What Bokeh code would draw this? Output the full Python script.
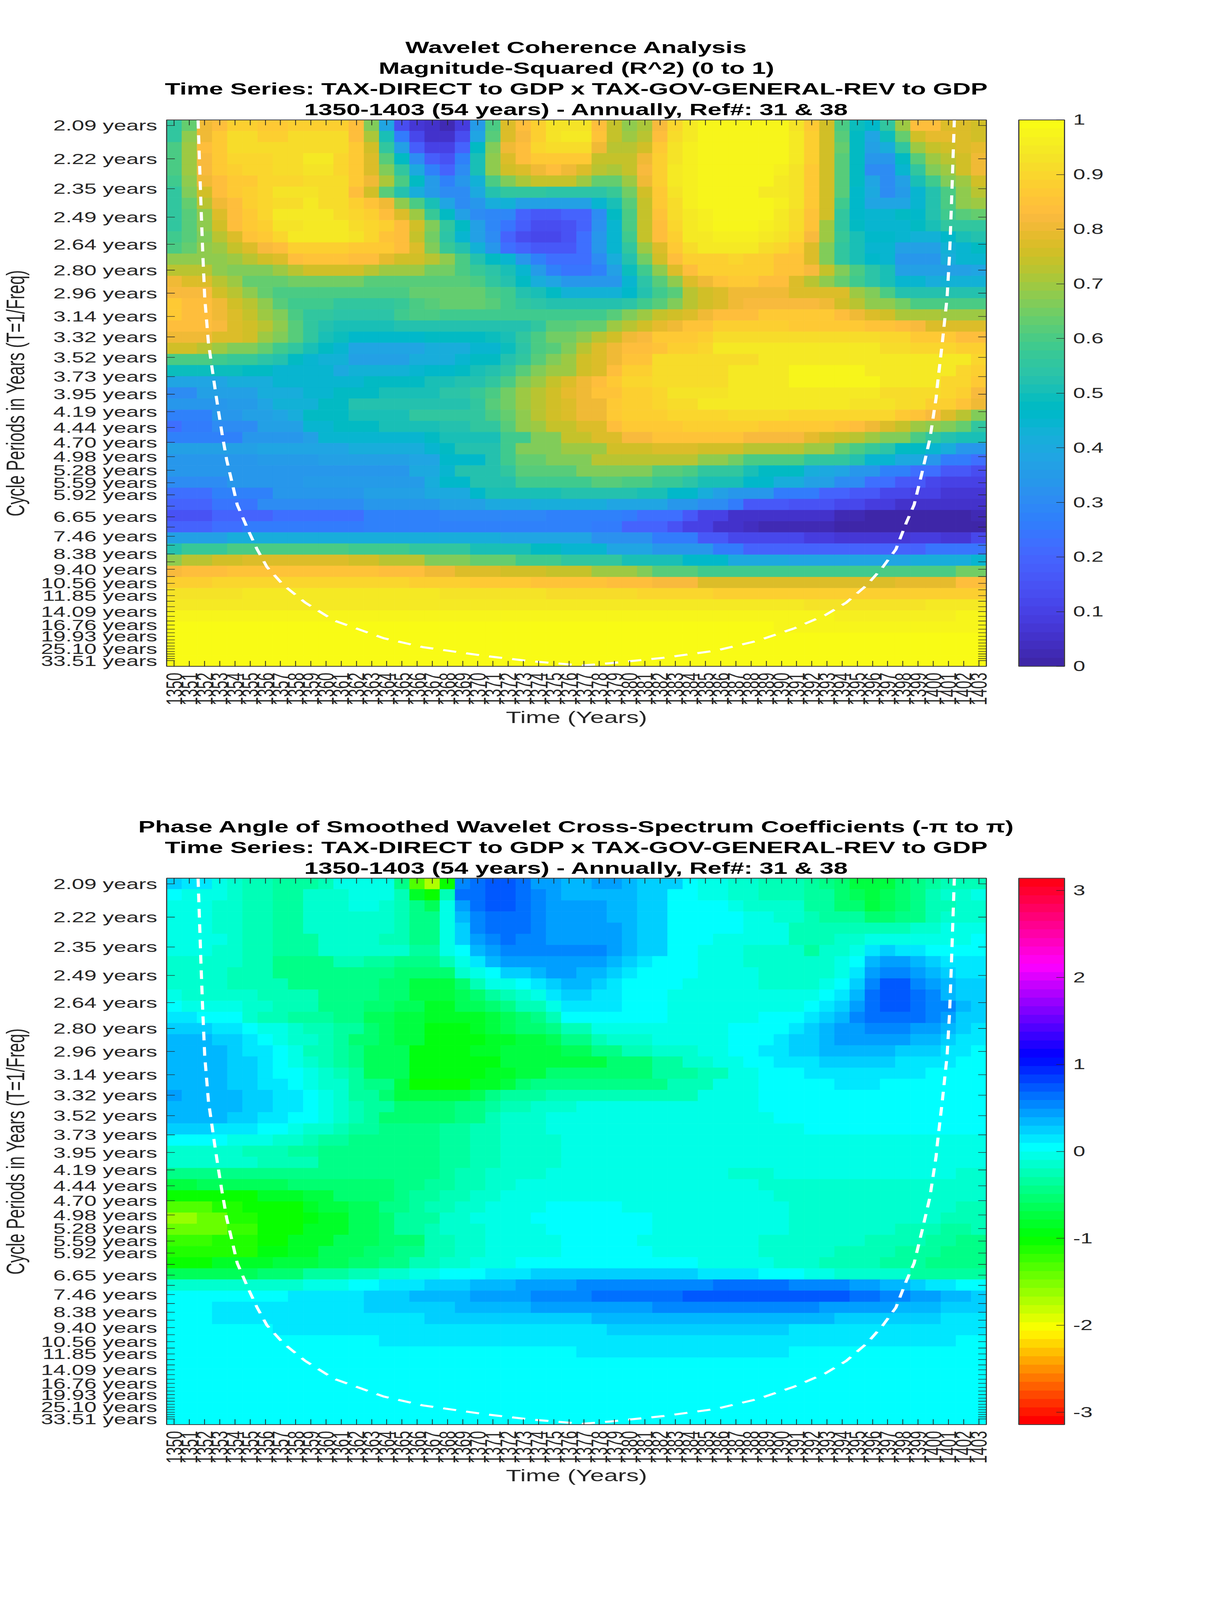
import math, colorsys
from bokeh.plotting import figure
from bokeh.layouts import column
from bokeh.document import Document
from bokeh.embed import file_html
from bokeh.resources import INLINE
from bokeh.models import (ColumnDataSource, LinearColorMapper, ColorBar, FixedTicker, LinearAxis, Range1d,
                          Title, CustomJS, CustomJSTickFormatter, NumeralTickFormatter)
from bokeh.transform import transform

YEARS = list(range(1350, 1404))
PERIODS = ["2.09","2.22","2.35","2.49","2.64","2.80","2.96","3.14","3.32","3.52","3.73","3.95","4.19","4.44","4.70","4.98",
           "5.28","5.59","5.92","6.27","6.65","7.05","7.46","7.90","8.38","8.88","9.40","9.96","10.56","11.19","11.85",
           "12.55","13.30","14.09","14.93","15.82","16.76","17.76","18.81","19.93","21.12","22.37","23.70","25.10","26.59",
           "28.18","29.85","31.62","33.51"]
HIDDEN = ["6.27","7.05","7.90","8.88","9.96","11.19","12.55","13.30","14.93","15.82","17.76","18.81","21.12","22.37","23.70",
          "26.59","28.18","29.85","31.62"]

TITLE_TOP = ["Wavelet Coherence Analysis", "Magnitude-Squared (R^2) (0 to 1)",
             "Time Series: TAX-DIRECT to GDP x TAX-GOV-GENERAL-REV to GDP",
             "1350-1403 (54 years) - Annually, Ref#: 31 & 38"]
TITLE_BOT = ["Phase Angle of Smoothed Wavelet Cross-Spectrum Coefficients (-\u03c0 to \u03c0)",
             "Time Series: TAX-DIRECT to GDP x TAX-GOV-GENERAL-REV to GDP",
             "1350-1403 (54 years) - Annually, Ref#: 31 & 38"]

# Each row: start column, value, start column, value ... (value holds until the next start column)
# Coherence in percent (R^2 x 100), row 0 = 2.09 years
RSQ_ROWS = [
[0,55,1,64,2,80,3,84,4,88,6,87,8,88,11,89,12,83,13,66,14,38,15,14,16,7,17,5,18,2,19,8,20,35,21,60,22,78,23,83,24,89,25,93,28,84,29,74,30,68,31,71,32,82,33,90,34,94,35,98,41,93,42,87,43,76,44,60,45,49,46,46,47,55,48,70,49,83,51,77,52,78,53,76],
[0,56,1,68,2,80,3,86,4,91,6,89,8,91,12,84,13,71,14,50,15,26,16,12,17,6,18,5,19,14,20,38,21,62,22,78,23,82,24,88,25,93,26,94,28,85,29,74,30,70,31,73,32,84,33,91,34,95,35,98,40,97,41,94,42,88,43,75,44,62,45,47,46,39,47,49,48,63,49,75,50,79,52,78,53,75],
[0,60,1,70,2,83,3,87,4,91,8,92,12,86,13,75,14,55,15,36,16,18,17,10,19,20,20,47,21,66,22,80,23,83,24,90,25,91,28,80,29,73,30,72,31,75,32,87,33,93,34,96,35,98,41,95,42,89,43,75,44,63,45,47,46,36,47,41,48,55,49,70,50,74,51,76,52,78,53,79],
[0,60,1,70,2,82,3,87,4,90,7,92,9,94,11,90,12,86,13,78,14,62,15,47,16,30,17,18,18,15,19,27,20,50,21,68,22,78,23,83,24,86,28,74,31,80,32,88,33,93,34,96,35,98,41,95,42,88,43,76,44,62,45,47,46,34,48,48,49,62,50,70,51,73,52,75,53,80],
[0,60,1,70,2,82,3,87,4,89,5,90,7,92,9,93,11,90,12,86,13,77,14,67,15,55,16,40,17,27,18,20,19,30,20,50,21,68,22,75,23,78,24,80,25,84,26,81,27,78,28,72,29,71,30,74,31,82,32,89,33,94,34,96,35,98,40,96,41,93,42,86,43,75,44,62,45,47,46,30,48,45,49,55,50,66,51,70,52,75,53,80],
[0,58,1,68,2,80,3,84,4,87,6,90,9,92,12,87,13,80,14,71,15,60,16,47,17,35,18,28,19,33,20,43,21,60,22,66,23,71,24,74,27,70,28,64,30,70,31,80,32,89,33,94,34,96,35,98,38,97,40,95,41,93,42,87,43,76,44,62,45,47,46,38,47,31,48,37,49,50,50,58,51,66,52,70,53,75],
[0,55,1,66,2,76,3,84,4,86,5,88,6,90,7,93,10,91,12,84,13,76,14,62,15,52,16,42,17,35,18,31,20,40,21,53,22,56,25,54,29,57,30,65,31,75,32,87,33,93,34,96,35,98,38,97,39,95,41,93,42,86,43,76,44,62,45,46,46,40,47,31,48,35,49,45,50,52,51,60,52,68,53,72],
[0,55,1,63,2,72,3,80,4,84,5,88,6,90,7,92,9,94,10,91,12,88,13,85,14,80,15,68,16,60,17,50,18,38,19,30,20,33,21,42,22,43,23,37,28,44,29,50,30,62,31,74,32,87,33,92,34,96,35,98,40,96,41,93,42,86,43,76,44,59,45,46,46,38,49,45,50,52,51,60,52,68,53,69],
[0,55,1,62,2,68,3,78,4,84,5,87,6,90,7,94,11,92,12,90,13,88,14,84,15,77,16,70,17,57,18,48,19,36,20,30,21,29,23,20,24,17,26,20,28,30,29,47,30,60,31,74,32,85,33,92,34,94,35,96,36,98,40,95,41,92,42,85,43,76,44,56,45,46,46,44,48,47,49,46,50,52,51,58,52,62,53,64],
[0,56,1,62,2,68,3,76,4,84,5,86,6,89,7,93,9,95,12,92,13,90,14,88,15,83,16,76,17,67,18,56,19,47,20,36,21,29,22,24,23,18,24,13,26,15,27,20,28,32,29,45,30,60,31,74,32,84,33,90,34,95,35,96,36,98,39,96,40,95,41,92,42,85,43,70,44,56,45,47,46,45,49,47,50,50,51,55,52,56],
[0,58,1,62,2,67,3,73,4,77,5,85,6,87,7,90,8,94,12,93,13,90,14,85,15,83,16,74,17,65,18,54,19,44,20,36,21,30,22,20,23,14,24,12,25,11,26,15,27,22,28,33,29,45,30,58,31,74,32,83,33,89,34,94,36,96,39,94,40,93,41,90,42,82,43,70,44,57,45,50,46,46,48,44,49,43,51,46,52,50,53,52],
[0,60,1,64,2,68,3,70,4,74,5,78,6,82,7,84,8,88,12,87,13,86,15,84,16,77,17,67,18,57,19,52,20,43,21,33,22,22,23,20,24,17,27,23,28,33,29,45,30,55,31,70,32,78,33,87,34,91,35,94,39,92,40,90,41,87,42,78,43,66,44,55,45,50,46,45,47,44,48,37,51,43,52,45,53,48],
[0,68,4,70,5,73,6,76,7,78,8,83,9,85,12,83,14,79,15,76,17,72,18,68,19,60,20,52,21,48,22,45,23,33,24,27,25,22,28,30,29,42,30,53,31,65,32,76,33,84,34,88,37,90,38,88,40,85,42,77,43,66,44,55,45,50,46,46,47,44,48,33,51,42,52,44],
[0,73,3,68,4,66,7,70,8,72,9,75,10,76,13,73,14,70,17,65,19,60,20,57,21,54,22,50,23,44,24,35,25,27,26,24,28,27,29,37,30,49,31,58,32,68,33,78,34,84,35,88,40,85,42,82,43,74,44,66,45,60,46,54,47,50,48,36,51,37,53,38],
[0,80,1,77,2,78,3,73,4,69,5,63,8,65,13,62,20,60,21,56,22,53,23,48,24,42,25,38,26,33,30,45,31,54,32,62,33,68,34,77,35,81,36,85,37,87,39,84,41,78,42,73,43,68,44,63,45,58,46,54,47,50,48,44,50,42,51,43],
[0,82,3,76,4,72,5,68,6,64,7,60,16,64,21,60,22,58,23,52,24,50,25,47,26,43,30,46,31,52,32,58,33,62,34,72,35,76,36,78,37,80,41,77,45,70,46,66,47,60,48,52,51,53],
[0,86,1,84,3,80,4,76,5,72,6,68,7,62,8,58,11,55,15,57,16,60,17,62,18,64,21,62,22,58,23,56,24,54,25,52,30,54,31,58,32,62,33,66,34,72,35,76,36,78,37,80,38,82,43,80,44,76,45,72,46,68,48,65,49,60],
[0,86,1,84,3,81,4,78,5,74,6,70,7,66,8,60,9,56,10,55,11,54,15,58,16,60,18,59,24,58,29,62,30,67,31,70,32,74,33,76,34,78,35,80,36,84,39,86,42,87,44,84,45,81,46,78,47,76,48,71,51,70],
[0,84,3,82,4,78,5,76,6,72,7,68,8,62,9,56,10,53,11,51,15,52,17,53,24,56,25,62,27,64,29,70,30,73,31,76,32,79,33,81,34,85,36,88,41,87,46,85,48,84,49,82,50,78],
[0,80,3,78,5,75,6,70,7,66,8,62,9,56,10,51,11,49,12,46,17,48,21,49,22,51,23,55,24,60,25,65,27,68,28,72,29,76,30,80,31,82,32,86,35,88,36,91,41,92,47,90,49,86,52,84],
[0,76,2,72,3,70,4,67,6,63,7,59,8,55,9,50,10,47,11,44,12,39,17,42,20,45,22,49,23,54,24,60,25,62,26,66,27,73,28,77,29,80,30,83,32,85,33,89,35,90,36,94,47,92,49,90,52,89],
[0,60,3,58,4,57,6,54,7,52,8,48,9,45,10,43,12,37,16,42,19,44,20,48,22,52,23,56,24,62,25,67,26,70,27,76,28,78,29,80,30,85,32,92,39,95,50,94,53,90],
[0,49,5,48,7,45,8,44,11,40,12,43,16,44,17,46,19,48,20,50,21,52,22,56,23,62,24,66,25,70,27,76,28,78,29,84,30,88,32,92,37,95,41,97,46,95,51,94,52,90,53,88],
[0,38,4,42,7,44,10,45,13,47,16,48,17,50,19,52,21,56,22,60,23,66,24,70,25,74,26,77,27,80,28,83,29,86,30,90,32,91,33,92,37,94,41,97,47,94,51,90,53,87],
[0,31,2,37,6,41,9,44,11,48,14,50,18,54,20,57,21,60,22,65,23,70,24,73,25,76,26,79,27,81,28,85,30,88,31,89,32,90,33,93,37,94,47,92,49,91,51,90,52,88,53,82],
[0,33,4,35,6,38,7,43,10,47,12,52,16,53,20,56,21,62,22,65,23,69,24,72,25,75,26,78,27,81,29,86,30,89,32,90,33,92,35,94,45,93,48,91,50,88,52,85,53,80],
[0,28,3,33,5,37,7,39,8,42,9,47,12,50,16,55,21,60,22,63,23,68,24,72,25,75,26,77,27,80,29,86,30,88,33,90,37,92,41,90,48,87,49,85,50,82,51,78,52,72,53,66],
[0,23,1,25,3,30,6,37,9,45,11,48,14,50,18,52,20,56,22,62,23,68,24,70,25,74,27,78,29,83,30,87,34,88,39,87,44,85,45,83,46,80,47,77,48,74,49,70,50,68,51,66,52,63,53,56],
[0,27,5,33,9,37,10,44,17,47,18,50,22,58,24,66,26,74,28,77,29,78,30,82,32,85,38,82,42,79,43,76,44,74,45,72,46,70,47,66,49,60,50,56,51,52,52,50],
[0,37,6,38,12,42,17,45,18,48,19,52,22,58,23,66,26,70,29,75,32,78,35,75,38,72,42,70,44,63,45,60,46,57,47,54,48,47,50,45,51,42,52,34],
[0,34,6,35,10,36,16,38,18,46,21,52,22,58,23,63,25,66,28,72,35,68,37,65,38,60,42,56,45,52,46,45,48,40,50,33,51,26,53,22],
[0,34,16,40,18,45,19,52,22,56,23,62,27,66,32,62,34,60,35,56,38,50,39,48,42,42,43,40,44,38,45,33,47,28,49,23,51,16,53,13],
[0,30,4,34,9,35,17,41,18,46,20,52,23,58,28,62,30,60,32,57,34,54,35,50,38,46,40,42,42,36,44,30,46,23,48,17,50,12,51,10],
[0,23,3,28,7,33,13,36,17,40,20,46,21,50,26,52,31,50,33,46,35,42,36,37,37,33,40,25,43,20,45,17,47,12,49,10,51,7],
[0,20,3,24,6,30,13,33,18,37,21,40,24,42,29,38,33,33,35,30,37,25,38,17,41,15,44,12,46,8,48,6],
[0,15,3,20,7,22,13,28,18,29,25,27,30,25,31,22,34,16,35,10,37,6,41,5,44,3,46,1,53,3],
[0,20,3,23,5,26,13,27,19,28,28,25,30,20,33,15,34,10,36,6,38,4,39,2,44,0,51,1],
[0,36,4,42,22,38,28,32,32,25,35,17,37,12,42,9,44,7,49,8,51,7,53,11],
[0,53,1,57,4,60,12,58,16,55,20,50,24,47,26,45,29,38,32,33,36,25,38,19,46,20,50,24],
[0,68,1,72,3,76,5,78,12,75,14,72,17,67,20,63,23,59,26,55,30,50,34,46,37,40,41,38,49,42,53,44],
[0,82,1,83,4,85,14,84,17,81,19,78,22,76,25,74,28,70,31,66,32,62,35,58,47,60,52,65],
[0,89,3,90,16,88,20,87,24,85,29,84,32,82,35,78,39,77,48,79,52,84],
[0,93,5,94,18,93,25,92,31,90,36,88],
[0,95,30,94,42,93,50,94],
[0,97,44,96,52,97],
[0,99,40,97],
[0,100],
[0,100],
[0,100],
]

# Phase in colour steps of pi/32 away from 0 (cyan), row 0 = 2.09 years
PHASE_ROWS = [
[0,2,1,1,3,-1,4,-2,5,-3,7,-4,10,-3,11,-1,15,-5,16,-14,17,-18,18,-11,19,5,20,6,21,7,23,6,24,4,26,3,28,4,30,3,31,2,34,0,35,-1,37,-2,39,-3,42,-4,43,-5,44,-6,45,-8,48,-6,49,-5,50,-4,51,-3],
[0,0,1,-1,4,-2,5,-3,7,-4,9,-2,12,-1,15,-3,16,-9,17,-11,18,-3,19,6,21,7,23,6,24,5,25,4,26,3,31,2,33,0,35,-1,37,-2,39,-3,42,-4,44,-6,45,-7,46,-8,47,-7,48,-6,49,-5,50,-3,51,-2,53,-1],
[0,-1,3,-2,5,-3,7,-4,9,-2,12,-1,14,-2,15,-3,16,-5,17,-7,18,-1,19,4,20,6,21,7,23,6,24,5,25,4,29,3,31,2,33,0,37,-1,38,-2,42,-4,44,-6,46,-8,47,-7,48,-6,49,-5,50,-3,52,-2],
[0,-1,3,-2,5,-3,7,-4,9,-2,15,-3,16,-5,18,-1,19,3,20,5,21,6,24,5,25,4,29,3,31,2,33,0,38,-1,40,-2,42,-3,43,-4,46,-6,48,-5,50,-3,51,-2],
[0,-1,3,-2,5,-3,7,-4,9,-2,15,-3,16,-5,18,-1,19,2,20,5,21,6,24,5,25,4,30,3,31,2,33,0,38,-1,41,-3,49,-2,51,-1],
[0,-1,4,-2,5,-3,7,-4,10,-2,14,-3,16,-5,18,-1,19,2,20,4,21,5,22,6,23,5,25,4,30,3,31,2,33,0,36,-1,41,-3,44,-2,46,-1,53,0],
[0,-1,3,-2,5,-3,7,-4,10,-2,16,-4,18,-1,19,0,20,3,21,4,22,5,27,5,29,4,30,3,31,2,33,0,35,-1,38,-2,42,-4,43,-2,45,-1,46,1,47,2,48,1,50,0],
[0,-2,5,-3,7,-5,11,-3,13,-4,15,-5,18,-3,19,-1,20,1,21,3,22,4,29,3,30,2,31,1,32,0,35,-1,38,-2,44,-1,45,0,46,3,47,4,49,3,50,2,51,1],
[0,-2,4,-3,7,-5,15,-6,19,-2,20,-1,21,0,22,2,24,3,25,4,27,3,29,2,30,1,31,0,35,-1,39,-2,44,-1,45,1,46,4,47,5,49,4,50,3,51,2,52,1],
[0,-2,4,-3,8,-5,14,-6,16,-8,19,-6,20,-3,21,-1,23,0,24,1,25,2,26,3,28,2,29,1,30,0,34,-1,39,-2,43,-1,44,0,45,2,46,5,47,7,49,5,50,4,51,3,52,2],
[0,-1,1,-2,6,-3,10,-5,14,-6,16,-8,19,-7,20,-6,21,-4,22,-3,23,-2,24,-1,25,1,26,2,28,1,30,0,33,-1,43,0,44,1,45,3,46,6,47,7,49,6,50,5,51,3,52,2],
[0,0,1,-1,5,-2,7,-3,10,-5,13,-6,15,-7,17,-9,19,-7,21,-6,22,-5,23,-3,25,-1,26,1,30,0,33,-1,42,0,43,1,44,2,45,4,46,6,47,7,49,6,50,5,52,3,53,2],
[0,1,2,0,5,-2,6,-3,8,-4,11,-5,13,-7,15,-8,17,-9,21,-8,22,-7,23,-6,24,-5,25,-3,26,0,33,-1,39,0,42,1,43,2,44,3,45,5,46,6,50,5,51,4,52,2],
[0,2,3,1,5,0,6,-1,8,-2,9,-3,11,-4,13,-6,14,-7,15,-8,17,-10,20,-9,21,-8,22,-7,23,-6,25,-5,26,-3,28,-1,37,0,41,1,42,2,43,3,44,4,46,5,49,4,51,3,52,2,53,1],
[0,3,3,2,5,1,6,0,7,-1,8,-2,10,-3,11,-4,12,-6,14,-7,15,-8,17,-10,21,-9,23,-8,25,-7,26,-5,28,-3,29,-2,32,-1,37,0,40,1,41,2,43,3,44,4,49,3,51,2,52,1],
[0,3,4,2,5,1,7,0,8,-1,9,-3,11,-4,12,-5,13,-7,16,-10,20,-9,22,-8,26,-7,28,-5,30,-3,32,-2,35,-1,37,0,39,1,41,2,43,3,48,2,51,1,53,0],
[0,3,4,2,6,1,7,0,8,-1,9,-2,10,-3,11,-4,12,-5,13,-7,16,-10,22,-8,29,-6,32,-4,34,-2,36,-1,38,0,40,1,43,2,48,1,52,0],
[0,3,4,2,6,1,7,0,9,-1,10,-2,11,-3,12,-4,13,-7,16,-10,21,-9,23,-8,25,-6,32,-4,35,-3,37,-1,39,0,42,1,50,0],
[0,3,4,2,6,1,8,0,9,-1,10,-2,12,-4,13,-5,15,-8,16,-11,20,-9,22,-8,23,-6,24,-5,33,-3,36,-1,39,0,44,1,47,0],
[0,4,1,3,5,2,7,1,9,0,10,-1,11,-2,12,-4,14,-6,15,-8,20,-7,21,-5,22,-4,25,-3,35,-1,39,0],
[0,3,5,2,7,1,9,0,10,-1,11,-2,12,-3,13,-4,15,-6,19,-5,21,-4,22,-3,24,-2,27,-1,39,0],
[0,3,4,2,6,1,8,0,10,-1,11,-2,12,-3,13,-4,14,-6,19,-5,21,-3,22,-2,25,-1,40,0],
[0,2,3,1,6,0,8,-1,9,-2,11,-3,12,-4,14,-5,18,-4,20,-3,22,-2,25,-1,42,0],
[0,0,4,-1,7,-2,9,-3,10,-4,12,-5,18,-4,20,-3,22,-2,26,-1],
[0,-2,5,-3,8,-4,10,-5,18,-4,20,-3,22,-2,26,-1],
[0,-2,6,-3,10,-5,18,-4,20,-3,22,-2,26,-1],
[0,-5,18,-4,19,-3,21,-2,25,-1,37,-2,40,-1,52,-2],
[0,-8,2,-7,8,-6,15,-5,17,-4,19,-3,21,-2,23,-1,39,-2],
[0,-11,6,-9,9,-8,11,-6,15,-5,16,-4,18,-3,20,-2,22,-1,40,-2],
[0,-14,3,-12,5,-11,9,-9,10,-8,12,-7,14,-5,16,-4,17,-3,19,-2,21,-1,25,0,30,-1,41,-2,52,-3],
[0,-17,2,-15,4,-12,6,-11,9,-10,10,-9,12,-7,14,-6,15,-4,18,-2,20,-1,24,0,32,-1,41,-2,51,-3],
[0,-15,4,-13,6,-11,9,-9,12,-7,14,-6,15,-4,17,-3,18,-2,21,-1,25,0,32,-1,41,-2,48,-3,51,-4,53,-3],
[0,-13,3,-12,6,-11,8,-9,11,-7,14,-6,17,-3,19,-2,21,-1,26,0,31,-1,39,-2,46,-3,50,-4,52,-5],
[0,-12,6,-10,8,-9,10,-7,13,-6,15,-5,17,-3,19,-2,21,-1,26,0,32,-1,39,-2,44,-3,48,-4,51,-5],
[0,-11,3,-9,7,-8,10,-7,12,-6,14,-5,16,-3,18,-2,20,-1,23,0,35,-1,40,-2,43,-3,47,-4,50,-5],
[0,-7,6,-6,9,-4,12,-3,14,-2,16,-1,18,0,21,1,24,2,35,1,39,0,42,-1,44,-2,49,-4],
[0,-2,9,-1,12,0,14,1,17,2,20,3,23,4,27,5,36,6,41,5,45,4,47,3,49,2,50,1,52,0],
[0,0,8,1,13,2,16,3,20,4,24,5,28,6,34,7,45,6,47,5,49,4,51,3,53,2],
[0,0,3,1,13,2,19,3,24,4,32,5,43,4,48,3,51,2],
[0,0,3,1,17,2,28,3,44,2,51,1],
[0,0,7,1,29,2,41,1],
[0,0,14,1,52,0],
[0,0,27,1,41,0],
[0,0],
[0,0],
[0,0],
[0,0],
[0,0],
[0,0],
]

# Cone of influence: year and row position (row 0 = 2.09 years)
COI_YEAR = [1351.57,1351.67,1351.77,1351.88,1352.01,1352.25,1352.67,1352.87,1353.15,1353.46,1353.74,1354.15,1354.91,1355.46,1356.11,
            1357.18,1358.63,1360.52,1363.79,1366.37,1370.51,1373.60,1376.88,1378.77,1382.21,1385.66,1388.41,1390.82,1392.89,1394.27,
            1395.64,1396.68,1397.54,1398.23,1398.74,1399.26,1399.78,1400.19,1400.26,1400.60,1400.91,1401.08,1401.19,1401.29,1401.39]
COI_ROW = [-0.5,3.49,7.48,11.47,15.46,19.45,23.44,25.24,27.63,30.03,31.62,34.02,36.41,38.01,39.60,
           41.20,42.79,44.39,45.98,46.78,47.58,48.06,48.43,48.22,47.74,47.10,46.22,45.11,43.91,42.79,
           41.20,39.60,38.01,35.61,34.02,31.14,28.11,24.44,23.44,19.45,15.46,11.47,7.48,3.49,-0.5]

PARULA = [(0.2422,0.1504,0.6603),(0.2504,0.1650,0.7076),(0.2578,0.1818,0.7511),(0.2647,0.1978,0.7952),(0.2706,0.2147,0.8364),
(0.2751,0.2342,0.8710),(0.2783,0.2559,0.8991),(0.2803,0.2782,0.9221),(0.2813,0.3006,0.9414),(0.2810,0.3228,0.9579),
(0.2795,0.3447,0.9717),(0.2760,0.3667,0.9829),(0.2699,0.3892,0.9906),(0.2602,0.4123,0.9952),(0.2440,0.4358,0.9988),
(0.2206,0.4603,0.9973),(0.1963,0.4847,0.9892),(0.1834,0.5074,0.9798),(0.1786,0.5289,0.9682),(0.1764,0.5499,0.9520),
(0.1687,0.5703,0.9359),(0.1540,0.5902,0.9218),(0.1460,0.6091,0.9079),(0.1380,0.6276,0.8973),(0.1248,0.6459,0.8883),
(0.1113,0.6635,0.8763),(0.0952,0.6798,0.8598),(0.0689,0.6948,0.8394),(0.0297,0.7082,0.8163),(0.0036,0.7203,0.7917),
(0.0067,0.7312,0.7660),(0.0433,0.7411,0.7394),(0.0964,0.7500,0.7120),(0.1408,0.7584,0.6842),(0.1717,0.7670,0.6554),
(0.1938,0.7758,0.6251),(0.2161,0.7843,0.5923),(0.2470,0.7918,0.5567),(0.2906,0.7973,0.5188),(0.3406,0.8008,0.4789),
(0.3909,0.8029,0.4354),(0.4456,0.8024,0.3909),(0.5044,0.7993,0.3480),(0.5616,0.7942,0.3045),(0.6174,0.7876,0.2612),
(0.6720,0.7793,0.2227),(0.7242,0.7698,0.1910),(0.7738,0.7598,0.1646),(0.8203,0.7498,0.1535),(0.8634,0.7406,0.1596),
(0.9035,0.7330,0.1774),(0.9393,0.7288,0.2100),(0.9728,0.7298,0.2394),(0.9956,0.7434,0.2371),(0.9970,0.7659,0.2199),
(0.9952,0.7893,0.2028),(0.9892,0.8136,0.1885),(0.9786,0.8386,0.1766),(0.9676,0.8639,0.1643),(0.9610,0.8890,0.1537),
(0.9597,0.9135,0.1423),(0.9628,0.9373,0.1265),(0.9691,0.9606,0.1064),(0.9769,0.9839,0.0805)]


def hexcol(rgb):
    return "#%02x%02x%02x" % tuple(int(round(c * 255)) for c in rgb)


PAL_TOP = [hexcol(c) for c in PARULA]
PAL_BOT = [hexcol(colorsys.hsv_to_rgb(i / 64, 1, 1)) for i in range(64)]


def expand(pairs):
    cells = [None] * len(YEARS)
    for k in range(0, len(pairs), 2):
        for c in range(pairs[k], len(YEARS)):
            cells[c] = pairs[k + 1]
    return cells


FONT = "Liberation Sans"
INK = "#262626"
BOX = "#404040"
labels = [("" if t in HIDDEN else t + " years") for t in PERIODS]
T = [float(t) for t in PERIODS]
fr = [1 / t for t in T]
row_ticks = [(fr[0] - f) / (fr[0] - fr[-1]) * (len(T) - 1) for f in fr]

y_fmt = CustomJSTickFormatter(args=dict(row_pos=row_ticks, row_text=labels), code="""
    let best = 0, d = 1e9;
    for (let i = 0; i < row_pos.length; i++) { const e = Math.abs(row_pos[i] - tick); if (e < d) { d = e; best = i; } }
    return row_text[best];""")
blank = CustomJSTickFormatter(code="return '';")


def panel(rows, scale, mapper, cb_ticks, cb_fmt, titles, top_border, fig_h, title_standoff):
    xs, ys, vs = [], [], []
    for r, pairs in enumerate(rows):
        for c, v in enumerate(expand(pairs)):
            xs.append(YEARS[c]); ys.append(r); vs.append(scale(v))
    src = ColumnDataSource(dict(l=[x - .5 for x in xs], r=[x + .5 for x in xs],
                                t=[y - .5 for y in ys], b=[y + .5 for y in ys], v=vs))
    p = figure(frame_width=2098, frame_height=2135, output_backend="svg", toolbar_location=None,
               x_range=Range1d(YEARS[0] - .5, YEARS[-1] + .5), y_range=Range1d(48.5, -.5),
               min_border_left=426, min_border_top=top_border, min_border_right=0,
               min_border_bottom=fig_h - top_border - 2135,
               x_axis_label="Time (Years)", y_axis_label="Cycle Periods in Years (T=1/Freq)")
    p.title = None
    p.grid.visible = False
    p.outline_line_color = BOX
    p.outline_line_width = 3
    p.quad(left="l", right="r", top="t", bottom="b", source=src,
           fill_color=transform("v", mapper), line_color=transform("v", mapper), line_width=1)
    p.line(COI_YEAR, COI_ROW, line_color="white", line_width=8, line_dash="34 26")

    xa, ya = p.xaxis[0], p.yaxis[0]
    xa.ticker = FixedTicker(ticks=YEARS)
    xa.major_label_overrides = {y: str(y) for y in YEARS}
    xa.major_label_orientation = math.pi / 2
    xa.axis_label_standoff = 9
    xa.major_label_standoff = 25
    ya.ticker = FixedTicker(ticks=row_ticks)
    ya.formatter = y_fmt
    ya.major_label_standoff = 24
    ya.axis_label_standoff = 26
    for a in (xa, ya):
        a.major_tick_in = 21
        a.major_tick_out = 0
        a.minor_tick_line_color = None
        a.major_tick_line_color = INK
        a.major_tick_line_width = 2
        a.axis_line_color = BOX
        a.axis_line_width = 3
        a.major_label_text_font = FONT
        a.major_label_text_font_size = "57px"
        a.major_label_text_color = INK
        a.axis_label_text_font = FONT
        a.axis_label_text_font_size = "64px"
        a.axis_label_text_font_style = "normal"
        a.axis_label_text_color = INK

    for loc, tick in (("right", FixedTicker(ticks=row_ticks)), ("above", FixedTicker(ticks=YEARS))):
        ax = LinearAxis(ticker=tick, formatter=blank, major_tick_in=21, major_tick_out=0,
                        minor_tick_line_color=None, major_tick_line_color=INK, major_tick_line_width=2,
                        axis_line_color=BOX, axis_line_width=3, major_label_standoff=0,
                        major_label_text_font_size="1px")
        p.add_layout(ax, loc)

    cb = ColorBar(color_mapper=mapper, ticker=FixedTicker(ticks=cb_ticks), formatter=cb_fmt, width=117, height=2135,
                  padding=0, margin=0, location=(83, 0), major_tick_in=21, major_tick_out=0,
                  major_tick_line_color=INK, major_tick_line_width=2, minor_tick_line_color=None,
                  label_standoff=22, major_label_text_font=FONT, major_label_text_font_size="56px",
                  major_label_text_color=INK, bar_line_color=BOX, bar_line_width=3,
                  border_line_color=None, background_fill_color=None)
    p.add_layout(cb, "right")

    for line in reversed(titles):
        p.add_layout(Title(text=line, align="center", text_font=FONT, text_font_size="64.5px",
                           text_font_style="bold", text_color="black", standoff=title_standoff), "above")
    return p


map_top = LinearColorMapper(palette=PAL_TOP, low=0, high=1)
map_bot = LinearColorMapper(palette=PAL_BOT, low=-math.pi, high=math.pi)

p1 = panel(RSQ_ROWS, lambda v: v / 100, map_top, [i / 10 for i in range(11)], NumeralTickFormatter(format="0.[0]"),
           TITLE_TOP, 468, 2900, 7)
p2 = panel(PHASE_ROWS, lambda d: (d + .5) * math.pi / 32, map_bot, [-3, -2, -1, 0, 1, 2, 3], NumeralTickFormatter(format="0"),
           TITLE_BOT, 531, 3352, 7)

doc = Document()
doc.add_root(column(p1, p2))
# The browser window opens at 3125x4096 rather than 3125x6252. Once Bokeh has laid the page out at the reference's
# geometry, squeeze the page vertically so the whole 6252 px fits the window that is really there, then redraw.
doc.js_on_event("document_ready", CustomJS(args=dict(plots=[p1, p2]), code="""
    const s = Math.min(1, window.innerHeight / 6252);
    for (const el of [document.documentElement, document.body]) {
        el.style.height = '6252px';
        el.style.overflow = 'visible';
    }
    document.body.style.transformOrigin = '0 0';
    document.body.style.transform = 'scale(1,' + s + ')';
    requestAnimationFrame(() => requestAnimationFrame(() => {
        for (const p of plots) { p.outline_line_width = 3.001; }
    }));"""))
open("out.html", "w").write(file_html(doc, INLINE))
